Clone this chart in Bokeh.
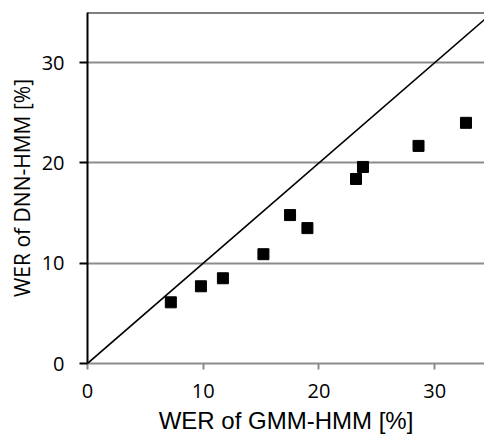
from bokeh.plotting import figure
from bokeh.models import Range1d, Span, FixedTicker, Slope
from bokeh.embed import file_html
from bokeh.resources import INLINE

# Data: WER of GMM-HMM vs WER of DNN-HMM (%)
gmm_wer = [7.2, 9.8, 11.7, 15.2, 17.5, 19.0, 23.2, 23.8, 28.6, 32.7]
dnn_wer = [6.1, 7.7, 8.5, 10.9, 14.8, 13.5, 18.4, 19.6, 21.7, 24.0]
x_ticks = [0, 10, 20, 30]
y_ticks = [0, 10, 20, 30]

p = figure(width=484, height=437, output_backend="svg", toolbar_location=None,
           x_range=Range1d(0, 34.3), y_range=Range1d(0, 35),
           min_border_left=87, min_border_right=0, min_border_top=12, min_border_bottom=74)
p.outline_line_color = None
p.background_fill_color = "white"

# diagonal y = x
p.add_layout(Slope(gradient=1, y_intercept=0, line_color="black", line_width=1.6))

p.scatter(gmm_wer, dnn_wer, marker="square", size=11, fill_color="black", line_color="black")

# top border line
p.add_layout(Span(location=35, dimension="width", line_color="black", line_width=2))

p.xgrid.grid_line_color = None
p.ygrid.grid_line_color = "#8c8c8c"
p.ygrid.grid_line_width = 2
p.ygrid.ticker = FixedTicker(ticks=y_ticks)

p.xaxis.ticker = FixedTicker(ticks=x_ticks)
p.yaxis.ticker = FixedTicker(ticks=y_ticks)
p.xaxis.minor_tick_line_color = None
p.yaxis.minor_tick_line_color = None

p.xaxis.axis_line_color = "#8c8c8c"
p.xaxis.axis_line_width = 2
p.xaxis.major_tick_line_color = "#8c8c8c"
p.xaxis.major_tick_line_width = 2
p.xaxis.major_tick_out = 6
p.xaxis.major_tick_in = 0
p.xaxis.major_label_standoff = 14

p.yaxis.axis_line_color = "black"
p.yaxis.axis_line_width = 2
p.yaxis.major_tick_line_color = "black"
p.yaxis.major_tick_line_width = 2
p.yaxis.major_tick_out = 8
p.yaxis.major_tick_in = 0
p.yaxis.major_label_standoff = 15

for ax in (p.xaxis, p.yaxis):
    ax.major_label_text_font = "Open Sans"
    ax.major_label_text_font_size = "20px"
    ax.major_label_text_color = "black"
    ax.axis_label_text_font_style = "normal"
    ax.axis_label_text_color = "black"

p.xaxis.axis_label = "WER of GMM-HMM [%]"
p.xaxis.axis_label_text_font = "Liberation Sans"
p.xaxis.axis_label_text_font_size = "24px"
p.xaxis.axis_label_standoff = 6

p.yaxis.axis_label = "WER of DNN-HMM [%]"
p.yaxis.axis_label_text_font = "Open Sans"
p.yaxis.axis_label_text_font_size = "21px"
p.yaxis.axis_label_standoff = 3

open("out.html", "w").write(file_html(p, INLINE))
